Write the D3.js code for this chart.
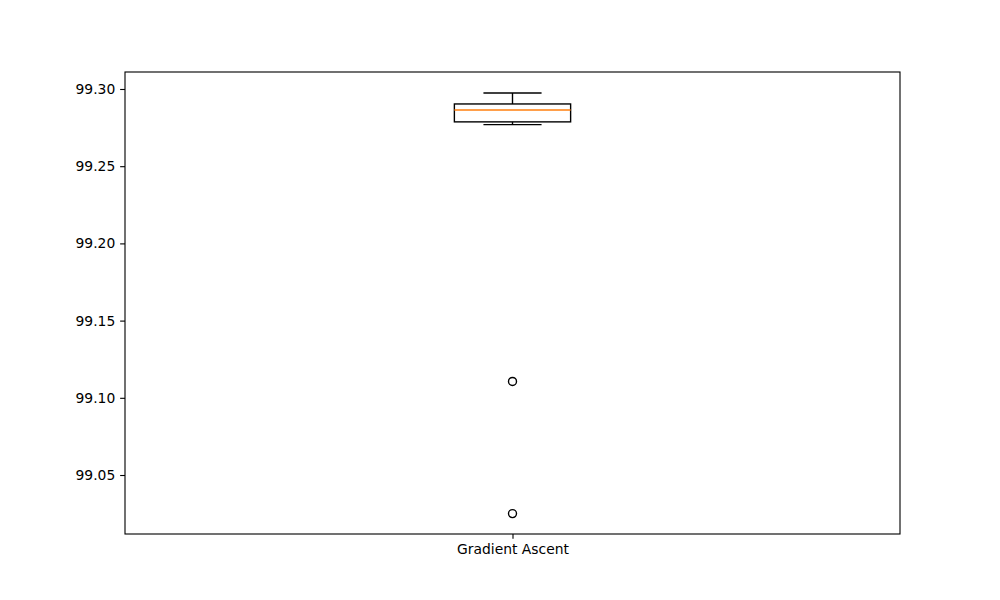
<!DOCTYPE html>
<html><head><meta charset="utf-8">
<script src="https://cdn.jsdelivr.net/npm/d3@7"></script>
<style>body{margin:0;background:#fff}svg text{font-family:"DejaVu Sans";font-size:13.89px;fill:#000}</style>
</head><body>
<svg id="c" width="1000" height="600"></svg>
<script>
const categories = ["Gradient Ascent"];
const q1Values = [99.2787];
const medianValues = [99.2864];
const q3Values = [99.2903];
const whiskerLow = [99.2769];
const whiskerHigh = [99.2974];
const outliers = [[99.1106, 99.0250]];
const yTicks = [99.05, 99.10, 99.15, 99.20, 99.25, 99.30];

const svg = d3.select("#c");
const L = 125, R = 900, T = 72, B = 534;
const x = d3.scaleLinear().domain([0.5, categories.length + 0.5]).range([L, R]);
const y = d3.scaleLinear().domain([99.0118, 99.311]).range([B, T]);
const bw = 0.15;

const yAxis = d3.axisLeft(y).tickValues(yTicks).tickFormat(d3.format(".2f")).tickSize(4.86).tickPadding(4.86);
const gy = svg.append("g").attr("transform", `translate(${L},0)`).call(yAxis);
const xAxis = d3.axisBottom(x).tickValues(categories.map((c, i) => i + 1)).tickFormat((d, i) => categories[i]).tickSize(4.86).tickPadding(4.86);
const gx = svg.append("g").attr("transform", `translate(0,${B})`).call(xAxis);
[gx, gy].forEach(g => {
  g.select(".domain").remove();
  g.selectAll("line").attr("stroke", "#000").attr("stroke-width", 1.11);
  g.selectAll("text").attr("fill", "#000").style("font-family", "DejaVu Sans").style("font-size", "13.89px");
});

const lw = 1.39;
categories.forEach((c, i) => {
  const cx = x(i + 1);
  const g = svg.append("g");
  g.append("line").attr("x1", cx).attr("x2", cx).attr("y1", y(q3Values[i])).attr("y2", y(whiskerHigh[i])).attr("stroke", "#000").attr("stroke-width", lw);
  g.append("line").attr("x1", cx).attr("x2", cx).attr("y1", y(q1Values[i])).attr("y2", y(whiskerLow[i])).attr("stroke", "#000").attr("stroke-width", lw);
  [whiskerHigh[i], whiskerLow[i]].forEach(v => {
    g.append("line").attr("x1", x(i + 1 - bw / 4)).attr("x2", x(i + 1 + bw / 4)).attr("y1", y(v)).attr("y2", y(v)).attr("stroke", "#000").attr("stroke-width", lw);
  });
  g.append("rect").attr("x", x(i + 1 - bw / 2)).attr("width", x(i + 1 + bw / 2) - x(i + 1 - bw / 2))
    .attr("y", y(q3Values[i])).attr("height", y(q1Values[i]) - y(q3Values[i]))
    .attr("fill", "none").attr("stroke", "#000").attr("stroke-width", lw);
  g.append("line").attr("x1", x(i + 1 - bw / 2)).attr("x2", x(i + 1 + bw / 2)).attr("y1", y(medianValues[i])).attr("y2", y(medianValues[i])).attr("stroke", "#ff7f0e").attr("stroke-width", lw);
  g.selectAll("circle.o").data(outliers[i]).enter().append("circle")
    .attr("cx", cx).attr("cy", d => y(d)).attr("r", 4).attr("fill", "none").attr("stroke", "#000").attr("stroke-width", lw);
});

svg.append("rect").attr("x", L).attr("y", T).attr("width", R - L).attr("height", B - T)
  .attr("fill", "none").attr("stroke", "#000").attr("stroke-width", 1.11);
</script>
</body></html>
